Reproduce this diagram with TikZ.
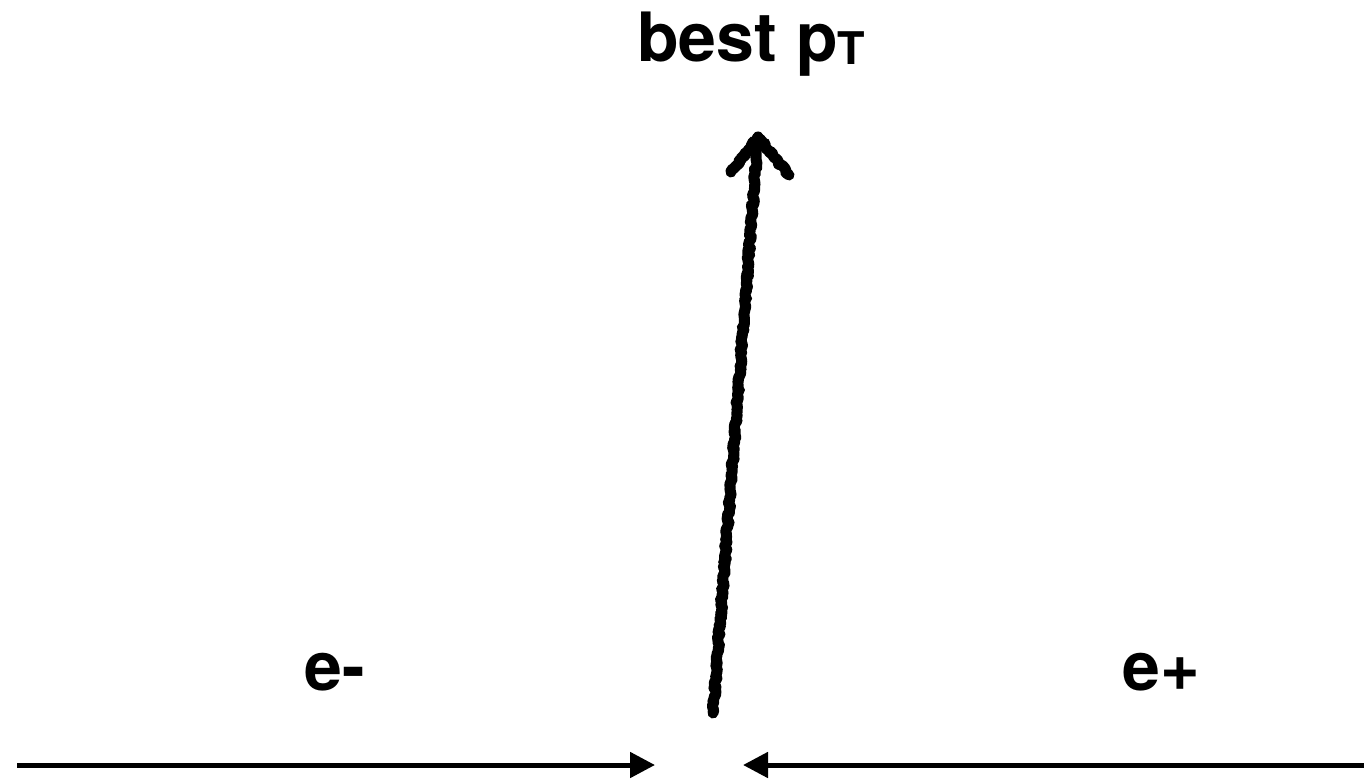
\documentclass[tikz,border=0pt]{standalone}
\usepackage{fontspec}
\setmainfont{TeX Gyre Heros}
\usepackage{tikz}
\usetikzlibrary{arrows.meta,decorations.pathmorphing}
\definecolor{inkx}{HTML}{000000}
\tikzset{
  beam/.style={-{Triangle[length=12.5pt,width=12.5pt]},line width=2.5pt,inkx},
  sketch/.style={line width=5.5pt,inkx,line cap=round,line join=round,
    decorate,decoration={random steps,segment length=1.2pt,amplitude=0.7pt}},
  lbl/.style={font=\fontsize{34}{40}\selectfont\bfseries,inner sep=0pt,anchor=base}
}
\begin{document}
\begin{tikzpicture}[x=0.5pt,y=0.5pt]
\useasboundingbox (0,0) rectangle (1364,778);
% incoming beams
\coordinate (lstart) at (17,13);
\coordinate (ltip) at (655,13);
\coordinate (rstart) at (1364,13);
\coordinate (rtip) at (743,13);
\draw[beam] (lstart) -- (ltip);
\draw[beam] (rstart) -- (rtip);
% outgoing hand-drawn arrow
\coordinate (vtx) at (713,65);
\coordinate (top) at (758,641);
\coordinate (armL) at (731,606);
\coordinate (armR) at (789,603);
\draw[sketch] (vtx) -- (top);
\draw[sketch] (armL) -- (top) -- (armR);
% labels
\node[lbl] (em) at (335,88) {e-};
\node[lbl] (ep) at (1161,88) {e+};
\node[lbl,anchor=base west] (pt) at (637,716)
  {best p\raisebox{-1.5pt}{\fontsize{22.5}{26}\selectfont T}};
\end{tikzpicture}
\end{document}
